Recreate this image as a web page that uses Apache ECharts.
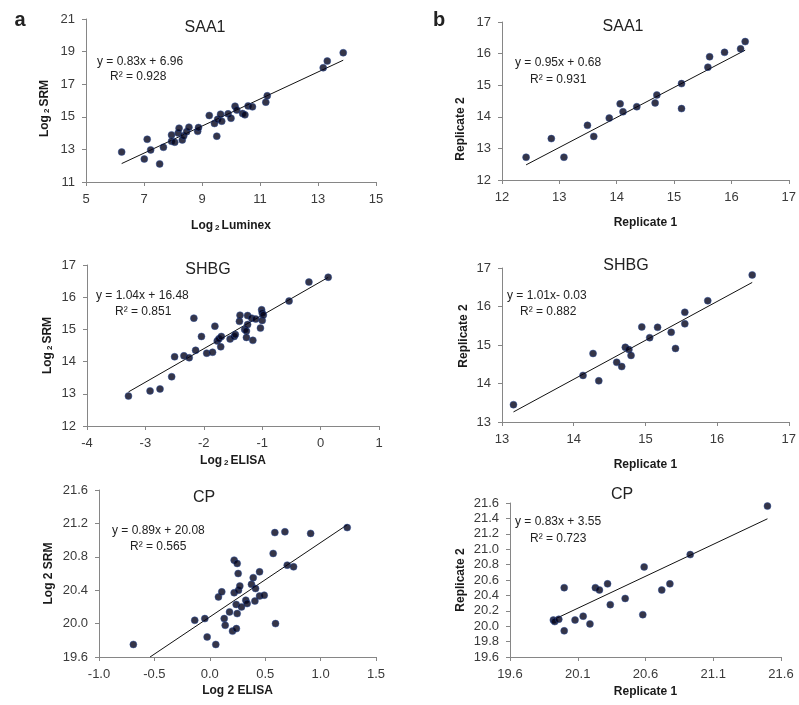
<!DOCTYPE html>
<html>
<head>
<meta charset="utf-8">
<script src="https://cdn.jsdelivr.net/npm/echarts@6/dist/echarts.min.js"></script>
<style>
  html, body { margin: 0; padding: 0; background: #fff; }
  #chart { width: 799px; height: 705px; }
</style>
</head>
<body>
<div id="chart"></div>
<script>
// panel a1: SAA1, SRM vs Luminex
var saa1LumX = [6.23, 7.01, 7.11, 7.23, 7.54, 7.67, 7.95, 7.95, 8.06, 8.18, 8.21, 8.32, 8.37, 8.47, 8.55, 8.85, 8.88, 9.25,
  9.43, 9.51, 9.54, 9.64, 9.68, 9.90, 10.0, 10.14, 10.20, 10.40, 10.48, 10.59, 10.74, 11.20, 11.25, 13.18, 13.32, 13.87];
var saa1LumY = [12.84, 12.41, 13.62, 12.97, 12.11, 13.13, 13.89, 13.50, 13.44, 14.01, 14.30, 13.58, 13.83, 14.09, 14.36, 14.11, 14.34, 15.08,
  14.59, 13.81, 14.85, 15.16, 14.73, 15.18, 14.91, 15.65, 15.41, 15.20, 15.12, 15.67, 15.61, 15.90, 16.29, 18.01, 18.42, 18.93];
var saa1LumFit = [0.83, 6.96];

// panel b1: SAA1 replicates
var saa1RepX = [12.42, 12.86, 13.08, 13.49, 13.60, 13.87, 14.06, 14.11, 14.35, 14.67, 14.70, 15.13, 15.13, 15.59, 15.62, 15.88, 16.16, 16.24];
var saa1RepY = [12.72, 13.31, 12.72, 13.73, 13.38, 13.96, 14.41, 14.16, 14.32, 14.44, 14.69, 15.05, 14.26, 15.57, 15.90, 16.04, 16.15, 16.38];
var saa1RepFit = [0.95, 0.68];

// panel a2: SHBG, SRM vs ELISA
var shbgElisaX = [-3.29, -2.92, -2.75, -2.55, -2.50, -2.34, -2.25, -2.17, -2.14, -2.04, -1.95, -1.85, -1.81, -1.77, -1.74, -1.71, -1.70,
  -1.55, -1.48, -1.46, -1.39, -1.38, -1.30, -1.27, -1.27, -1.25, -1.25, -1.18, -1.16, -1.11, -1.03, -1.01, -1.00, -1.00, -0.98, -0.54, -0.20, 0.13];
var shbgElisaY = [12.93, 13.09, 13.15, 13.53, 14.15, 14.18, 14.12, 15.35, 14.35, 14.78, 14.26, 14.29, 15.10, 14.64, 14.71, 14.46, 14.78,
  14.70, 14.78, 14.84, 15.25, 15.44, 15.00, 14.95, 14.75, 15.15, 15.43, 15.35, 14.66, 15.32, 15.04, 15.61, 15.51, 15.28, 15.45, 15.88, 16.47, 16.62];
var shbgElisaFit = [1.04, 16.48];

// panel b2: SHBG replicates
var shbgRepX = [13.16, 14.13, 14.27, 14.35, 14.60, 14.67, 14.72, 14.77, 14.80, 14.95, 15.06, 15.17, 15.36, 15.42, 15.55, 15.55, 15.87, 16.49];
var shbgRepY = [13.45, 14.21, 14.78, 14.07, 14.55, 14.44, 14.94, 14.88, 14.73, 15.47, 15.19, 15.46, 15.33, 14.91, 15.85, 15.55, 16.15, 16.82];
var shbgRepFit = [1.01, -0.03];

// panel a3: CP, SRM vs ELISA
var cpElisaX = [-0.69, -0.136, -0.045, -0.024, 0.054, 0.078, 0.108, 0.13, 0.139, 0.178, 0.205, 0.22, 0.22, 0.238, 0.24, 0.247, 0.247,
  0.256, 0.259, 0.271, 0.286, 0.325, 0.337, 0.376, 0.392, 0.407, 0.413, 0.449, 0.449, 0.491, 0.572, 0.587, 0.593, 0.678, 0.699, 0.756, 0.91, 1.24];
var cpElisaY = [19.75, 20.04, 20.06, 19.84, 19.75, 20.32, 20.38, 20.06, 19.98, 20.14, 19.91, 20.76, 20.37, 20.23, 19.94, 20.72, 20.12,
  20.60, 20.40, 20.45, 20.20, 20.28, 20.24, 20.47, 20.55, 20.27, 20.42, 20.33, 20.62, 20.34, 20.84, 21.09, 20.00, 21.10, 20.70, 20.68, 21.08, 21.15];
var cpElisaFit = [0.89, 20.08];

// panel b3: CP replicates
var cpRepX = [19.92, 19.93, 19.96, 20.00, 20.00, 20.08, 20.14, 20.19, 20.23, 20.26, 20.32, 20.34, 20.45, 20.58, 20.59, 20.72, 20.78, 20.93, 21.50];
var cpRepY = [20.08, 20.06, 20.09, 20.50, 19.94, 20.08, 20.13, 20.03, 20.50, 20.47, 20.55, 20.28, 20.36, 20.15, 20.77, 20.47, 20.55, 20.93, 21.56];
var cpRepFit = [0.83, 3.55];

// tick values
var ticksA1x = [5, 7, 9, 11, 13, 15];
var ticksA1y = [11, 13, 15, 17, 19, 21];
var ticksB1x = [12, 13, 14, 15, 16, 17];
var ticksB1y = [12, 13, 14, 15, 16, 17];
var ticksA2x = [-4, -3, -2, -1, 0, 1];
var ticksA2y = [12, 13, 14, 15, 16, 17];
var ticksB2x = [13, 14, 15, 16, 17];
var ticksB2y = [13, 14, 15, 16, 17];
var ticksA3x = [-1.0, -0.5, 0.0, 0.5, 1.0, 1.5];
var ticksA3y = [19.6, 20.0, 20.4, 20.8, 21.2, 21.6];
var ticksB3x = [19.6, 20.1, 20.6, 21.1, 21.6];
var ticksB3y = [19.6, 19.8, 20.0, 20.2, 20.4, 20.6, 20.8, 21.0, 21.2, 21.4, 21.6];

var FONT = 'Liberation Sans';
var chart = echarts.init(document.getElementById('chart'));

var nameRich = {
  a: { fontFamily: FONT, fontSize: 12, fontWeight: 'bold', color: '#1a1a1a' },
  s: { fontFamily: FONT, fontSize: 8, fontWeight: 'bold', color: '#1a1a1a', padding: [5, 2, 0, 2] }
};

function pairs(xs, ys) {
  return xs.map(function (x, i) { return [x, ys[i]]; });
}

// trend line from the printed equation over the x range of the data
function fitLine(xs, fit, yMin) {
  var x0 = Math.min.apply(null, xs), x1 = Math.max.apply(null, xs);
  if (yMin != null) x0 = Math.max(x0, (yMin - fit[1]) / fit[0]);
  return [[x0, fit[0] * x0 + fit[1]], [x1, fit[0] * x1 + fit[1]]];
}

function axis(idx, ticks, name, gap, digits, pad) {
  return {
    type: 'value', gridIndex: idx,
    min: ticks[0], max: ticks[ticks.length - 1],
    name: name, nameLocation: 'middle', nameGap: gap, nameMoveOverlap: false,
    nameTextStyle: { fontFamily: FONT, fontSize: 12, fontWeight: 'bold', color: '#1a1a1a', rich: nameRich, padding: pad || 0 },
    axisLine: { onZero: false, lineStyle: { color: '#868686', width: 1 } },
    axisTick: { show: true, length: 4, customValues: ticks, lineStyle: { color: '#868686' } },
    axisLabel: {
      customValues: ticks, margin: 11, fontFamily: FONT, fontSize: 13, color: '#3a3a3a',
      formatter: function (v) { return v.toFixed(digits); }
    },
    splitLine: { show: false }
  };
}

var grids = [
  { left: 86, top: 19, width: 290, height: 163 },
  { left: 502, top: 22, width: 288, height: 158 },
  { left: 87, top: 265, width: 292, height: 161 },
  { left: 502, top: 268, width: 292, height: 154 },
  { left: 99, top: 490, width: 277, height: 167 },
  { left: 510, top: 503, width: 271, height: 154 }
];

var xAxes = [
  axis(0, ticksA1x, '{a|Log}{s|2}{a|Luminex}', 37, 0),
  axis(1, ticksB1x, 'Replicate 1', 37, 0),
  axis(2, ticksA2x, '{a|Log}{s|2}{a|ELISA}', 28, 0),
  axis(3, ticksB2x, 'Replicate 1', 37, 0),
  axis(4, ticksA3x, 'Log 2 ELISA', 28, 1),
  axis(5, ticksB3x, 'Replicate 1', 29, 1)
];
var yAxes = [
  axis(0, ticksA1y, '{a|Log}{s|2}{a|SRM}', 35, 0, [0, 16, 0, 0]),
  axis(1, ticksB1y, 'Replicate 2', 35, 0, [0, 56, 0, 0]),
  axis(2, ticksA2y, '{a|Log}{s|2}{a|SRM}', 33, 0),
  axis(3, ticksB2y, 'Replicate 2', 32, 0, [0, 0, 0, 18]),
  axis(4, ticksA3y, 'Log 2 SRM', 44, 1),
  axis(5, ticksB3y, 'Replicate 2', 43, 1)
];

var sets = [
  [saa1LumX, saa1LumY, saa1LumFit, null],
  [saa1RepX, saa1RepY, saa1RepFit, null],
  [shbgElisaX, shbgElisaY, shbgElisaFit, null],
  [shbgRepX, shbgRepY, shbgRepFit, null],
  [cpElisaX, cpElisaY, cpElisaFit, ticksA3y[0]],
  [cpRepX, cpRepY, cpRepFit, null]
];

var series = [];
sets.forEach(function (s, i) {
  series.push({
    type: 'line', xAxisIndex: i, yAxisIndex: i, data: fitLine(s[0], s[2], s[3]),
    symbol: 'none', silent: true, lineStyle: { color: '#111', width: 1 }, z: 1
  });
  series.push({
    type: 'scatter', xAxisIndex: i, yAxisIndex: i, data: pairs(s[0], s[1]),
    symbolSize: 7, z: 2,
    itemStyle: { color: '#02021a', borderColor: '#2b4f9e', borderWidth: 0.6 }
  });
});

function txt(x, y, text, size, align, weight) {
  return {
    type: 'text', x: x, y: y, silent: true,
    style: { text: text, fontFamily: FONT, fontSize: size, fontWeight: weight || 'normal', fill: '#222', align: align || 'left', verticalAlign: 'middle' }
  };
}

function eqText(fit) {
  var sign = fit[1] < 0 ? '- ' : '+ ';
  return 'y = ' + fit[0].toFixed(2) + 'x ' + sign + Math.abs(fit[1]).toFixed(2);
}

var graphics = [
  txt(20, 20, 'a', 20, 'center', 'bold'),
  txt(439, 20, 'b', 20, 'center', 'bold'),
  txt(205, 28, 'SAA1', 16, 'center'),
  txt(623, 27, 'SAA1', 16, 'center'),
  txt(208, 270, 'SHBG', 16, 'center'),
  txt(626, 266, 'SHBG', 16, 'center'),
  txt(204, 498, 'CP', 16, 'center'),
  txt(622, 495, 'CP', 16, 'center'),
  txt(97, 62, eqText(saa1LumFit), 12), txt(110, 77, 'R² = 0.928', 12),
  txt(515, 63, eqText(saa1RepFit), 12), txt(530, 80, 'R² = 0.931', 12),
  txt(96, 296, eqText(shbgElisaFit), 12), txt(115, 312, 'R² = 0.851', 12),
  txt(507, 296, 'y = 1.01x- 0.03', 12), txt(520, 312, 'R² = 0.882', 12),
  txt(112, 531, eqText(cpElisaFit), 12), txt(130, 547, 'R² = 0.565', 12),
  txt(515, 522, eqText(cpRepFit), 12), txt(530, 539, 'R² = 0.723', 12)
];

chart.setOption({
  animation: false,
  backgroundColor: '#fff',
  grid: grids,
  xAxis: xAxes,
  yAxis: yAxes,
  series: series,
  graphic: graphics
});
</script>
</body>
</html>
